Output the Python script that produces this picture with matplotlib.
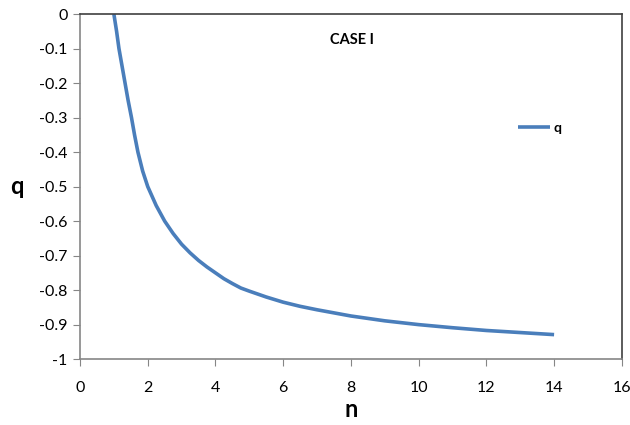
import matplotlib
matplotlib.use('Agg')
import matplotlib.pyplot as plt

# values
n = [1, 1.08, 1.15, 1.24, 1.33, 1.42, 1.52, 1.61, 1.71, 1.85, 2, 2.25, 2.5, 2.75, 3, 3.25, 3.5,
     3.75, 4, 4.25, 4.5, 4.75, 5, 5.5, 6, 6.5, 7, 8, 9, 10, 11, 12, 13, 14]
q = [0, -0.05, -0.1, -0.15, -0.2, -0.25, -0.3, -0.35, -0.4, -0.455, -0.5, -0.555, -0.6, -0.636,
     -0.667, -0.692, -0.714, -0.733, -0.75, -0.767, -0.781, -0.794, -0.803, -0.82, -0.835,
     -0.847, -0.857, -0.875, -0.889, -0.9, -0.909, -0.917, -0.923, -0.929]

xticks = [0, 2, 4, 6, 8, 10, 12, 14, 16]
yticks = [0, -0.1, -0.2, -0.3, -0.4, -0.5, -0.6, -0.7, -0.8, -0.9, -1]

plt.rcParams['font.family'] = ['Lato', 'DejaVu Sans']

fig = plt.figure(figsize=(6.3, 4.25), dpi=100)
ax = fig.add_axes([0.127, 0.155, 0.860, 0.812])

ax.plot(n, q, color='#4a7ebb', linewidth=2.6, label='q', solid_capstyle='butt',
        solid_joinstyle='round')

ax.set_xlim(0, 16)
ax.set_ylim(-1, 0)
ax.set_xticks(xticks)
ax.set_xticklabels([str(t) for t in xticks])
ax.set_yticks(yticks)
ax.set_yticklabels(['0', '-0.1', '-0.2', '-0.3', '-0.4', '-0.5', '-0.6', '-0.7', '-0.8', '-0.9', '-1'])
ax.tick_params(axis='both', direction='out', length=5, color='#868686', labelsize=11.5, pad=4)
ax.tick_params(axis='x', pad=11)

ax.spines['left'].set_color('#868686')
ax.spines['bottom'].set_color('#868686')
ax.spines['top'].set_color('#404040')
ax.spines['right'].set_color('#404040')
for s in ax.spines.values():
    s.set_linewidth(1.2)

ax.set_xlabel('n', fontsize=17, fontweight='bold', labelpad=2)
ax.set_ylabel('q', fontsize=17, fontweight='bold', rotation=0, labelpad=16, va='center')

ax.text(0.462, 0.913, 'CASE I', transform=ax.transAxes, fontsize=10.5, fontweight='bold')

leg = ax.legend(loc='center left', bbox_to_anchor=(0.785, 0.67), frameon=False,
                handlelength=2.3, handletextpad=0.3, fontsize=10)
for t in leg.get_texts():
    t.set_fontweight('bold')

fig.savefig('out.png', dpi=100)
